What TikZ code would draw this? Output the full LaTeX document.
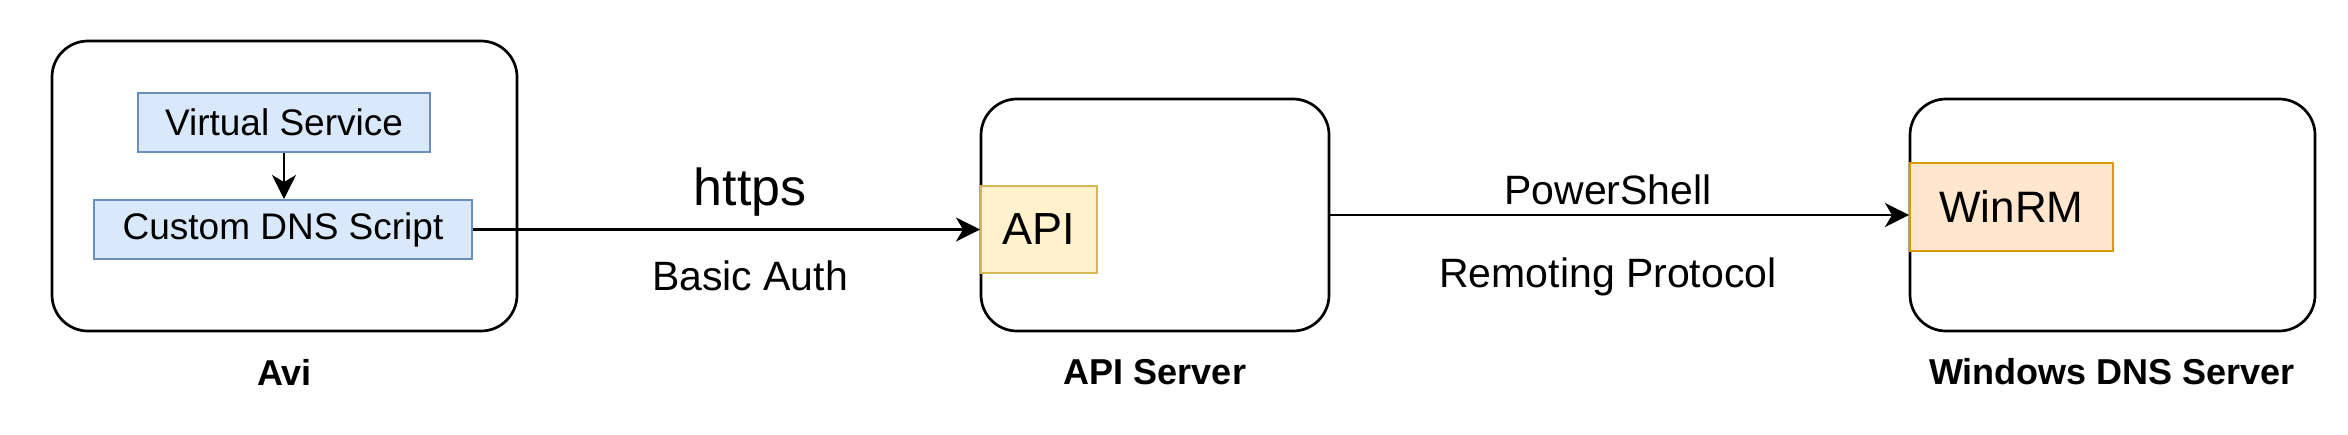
\documentclass[tikz,border=0pt]{standalone}
\usepackage{fontspec}
\setmainfont{Liberation Sans}
\usetikzlibrary{arrows.meta,positioning}

\definecolor{bluefill}{RGB}{218,232,252}
\definecolor{blueline}{RGB}{108,142,191}
\definecolor{yellowfill}{RGB}{255,242,204}
\definecolor{yellowline}{RGB}{214,182,86}
\definecolor{orangefill}{RGB}{255,230,204}
\definecolor{orangeline}{RGB}{215,155,0}

\tikzset{
  hostbox/.style={draw, line width=1.35pt, rounded corners=18pt, inner sep=0pt},
  hostlabel/.style={font=\bfseries\fontsize{18}{20}\selectfont},
  svcbox/.style={draw=blueline, fill=bluefill, line width=1pt, inner sep=0pt,
    font=\fontsize{18.5}{20}\selectfont},
  apibox/.style={draw=yellowline, fill=yellowfill, line width=1pt, inner sep=0pt,
    font=\fontsize{22.5}{24}\selectfont},
  winbox/.style={draw=orangeline, fill=orangefill, line width=1pt, inner sep=0pt,
    font=\fontsize{22}{24}\selectfont},
  flowlabel/.style={font=\fontsize{20.5}{22}\selectfont},
  flow/.style={line width=1.25pt, -{Stealth[length=12pt,width=12pt,inset=3.5pt]}},
}

\begin{document}
\begin{tikzpicture}[x=0.5pt,y=0.5pt,yscale=-1,xscale=1]
\useasboundingbox (0,0) rectangle (2348,434);

% hosts
\node[hostbox, minimum width=232.5pt, minimum height=145pt] (avi) at (284.5,186) {};
\node[hostbox, minimum width=174pt, minimum height=116pt] (apisrv) at (1155,215) {};
\node[hostbox, minimum width=202.5pt, minimum height=116pt] (dnssrv) at (2112.5,215) {};

% host labels
\node[hostlabel] (avilabel) at (284.5,372) {Avi};
\node[hostlabel] (apisrvlabel) at (1155,372) {API Server};
\node[hostlabel] (dnssrvlabel) at (2112,372) {Windows DNS Server};

% components
\node[svcbox, minimum width=146pt, minimum height=29.5pt] (vs) at (284,122.5) {Virtual Service};
\node[svcbox, minimum width=189pt, minimum height=29.5pt] (script) at (283,229.5) {Custom DNS Script};
\node[apibox, minimum width=58pt, minimum height=43.5pt] (api) at (1039,229.5) {API};
\node[winbox, minimum width=101.5pt, minimum height=44pt] (winrm) at (2011.5,207) {WinRM};

% connectors
\draw[flow] (vs.south) -- (vs.south |- script.north);
\draw[flow] (script.east) -- (api.west);
\draw[flow] (apisrv.east) -- (apisrv.east -| winrm.west);

% connector labels
\node[font=\fontsize{26}{28}\selectfont] (https) at (750,192) {https};
\node[flowlabel] (auth) at (750,276) {Basic Auth};
\node[flowlabel] (ps) at (1608,190) {PowerShell};
\node[flowlabel] (remoting) at (1608,277) {Remoting Protocol};

\end{tikzpicture}
\end{document}
